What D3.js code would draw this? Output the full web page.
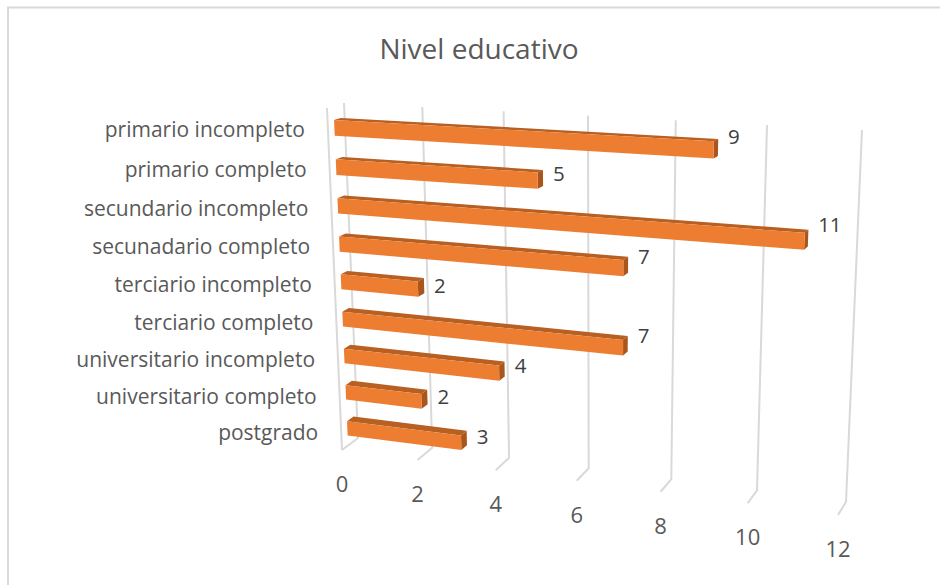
<!DOCTYPE html>
<meta charset="utf-8">
<style>
  html, body { margin: 0; background: #fff; }
  svg { display: block; font-family: "Open Sans", sans-serif; }
</style>
<svg width="940" height="585"></svg>

<script src="https://d3js.org/d3.v7.min.js"></script>
<script>

var categories = ["primario incompleto", "primario completo", "secundario incompleto", "secunadario completo",
  "terciario incompleto", "terciario completo", "universitario incompleto", "universitario completo", "postgrado"];
var values = [9, 5, 11, 7, 2, 7, 4, 2, 3];
var xTicks = [0, 2, 4, 6, 8, 10, 12];
var title = "Nivel educativo";

var svg = d3.select("svg");

// the tilted walls of the 3d chart: [0,0] [1,0] [1,1] [0,1] in picture space
var backWall = [[344, 103], [862, 130], [846, 502], [358, 438]],
    frontWall = [[327, 108], [853, 136], [838, 515], [342, 450]];

// unit square -> quad (perspective)
function squareToQuad(q) {
  var dx1 = q[1][0] - q[2][0], dx2 = q[3][0] - q[2][0], sx = q[0][0] - q[1][0] + q[2][0] - q[3][0],
      dy1 = q[1][1] - q[2][1], dy2 = q[3][1] - q[2][1], sy = q[0][1] - q[1][1] + q[2][1] - q[3][1],
      det = dx1 * dy2 - dx2 * dy1,
      g = (sx * dy2 - dx2 * sy) / det,
      h = (dx1 * sy - sx * dy1) / det,
      a = q[1][0] - q[0][0] + g * q[1][0], b = q[3][0] - q[0][0] + h * q[3][0], c = q[0][0],
      d = q[1][1] - q[0][1] + g * q[1][1], e = q[3][1] - q[0][1] + h * q[3][1], f = q[0][1];
  return function(u, v) {
    var w = g * u + h * v + 1;
    return [(a * u + b * v + c) / w, (d * u + e * v + f) / w];
  };
}

var back = squareToQuad(backWall),
    front = squareToQuad(frontWall);

var x = d3.scaleLinear().domain([0, 12]).range([0, 1]);
var y = d3.scaleBand().domain(categories).range([0.008, 1]).paddingInner(0.6).paddingOuter(0.28);
var labelLift = d3.scaleLinear().domain([0, 12]).range([3, -15]);

// value, row position, depth (0 back wall, 1 front edge of the floor)
function project(v, r, depth) {
  var p0 = back(x(v), r), p1 = front(x(v), r);
  return [p0[0] + (p1[0] - p0[0]) * depth, p0[1] + (p1[1] - p0[1]) * depth];
}

var line = d3.line();
var barBack = 0.22, barFront = 0.62;

// frame, only top and left show
svg.append("path")
    .attr("d", "M8,585V7.5H940")
    .attr("fill", "none")
    .attr("stroke", "#d9d9d9")
    .attr("stroke-width", 2);

svg.append("text")
    .attr("x", 479)
    .attr("y", 59)
    .attr("text-anchor", "middle")
    .attr("font-size", 28)
    .attr("fill", "#595959")
    .text(title);

// grid lines
var grid = svg.append("g")
    .attr("fill", "none")
    .attr("stroke", "#d9d9d9")
    .attr("stroke-width", 2);

xTicks.forEach(function(t) {
  grid.append("path").attr("d", line([project(t, 0, 0), project(t, 1, 0), project(t, 1, 1)]));
});
grid.append("path").attr("d", line([project(0, 0, 1), project(0, 1, 1)]));

// bars
var bars = svg.append("g");

categories.forEach(function(c, i) {
  var v = values[i],
      r0 = y(c),
      r1 = y(c) + y.bandwidth();

  bars.append("path")
      .attr("fill", "#b85f22")
      .attr("d", line([project(0, r0, barBack), project(v, r0, barBack), project(v, r0, barFront), project(0, r0, barFront)]) + "Z");
  bars.append("path")
      .attr("fill", "#a9551c")
      .attr("d", line([project(v, r0, barBack), project(v, r1, barBack), project(v, r1, barFront), project(v, r0, barFront)]) + "Z");
  bars.append("path")
      .attr("fill", "#ed7d31")
      .attr("d", line([project(0, r0, barFront), project(v, r0, barFront), project(v, r1, barFront), project(0, r1, barFront)]) + "Z");

  // value label
  var end = project(v, (r0 + r1) / 2, barBack);
  svg.append("text")
      .attr("x", end[0] + 10)
      .attr("y", end[1] + labelLift(v))
      .attr("dy", "0.35em")
      .attr("font-size", 20.5)
      .attr("fill", "#404040")
      .text(v);

  // category label
  var left = project(0, (r0 + r1) / 2, 1);
  svg.append("text")
      .attr("x", left[0] - 23)
      .attr("y", left[1])
      .attr("dy", "0.35em")
      .attr("text-anchor", "end")
      .attr("font-size", 21)
      .attr("fill", "#595959")
      .text(c);
});

// tick labels
xTicks.forEach(function(t) {
  var p = project(t, 1, 1);
  svg.append("text")
      .attr("x", p[0])
      .attr("y", p[1] + 34.5)
      .attr("dy", "0.35em")
      .attr("text-anchor", "middle")
      .attr("font-size", 22)
      .attr("fill", "#595959")
      .text(t);
});

</script>
